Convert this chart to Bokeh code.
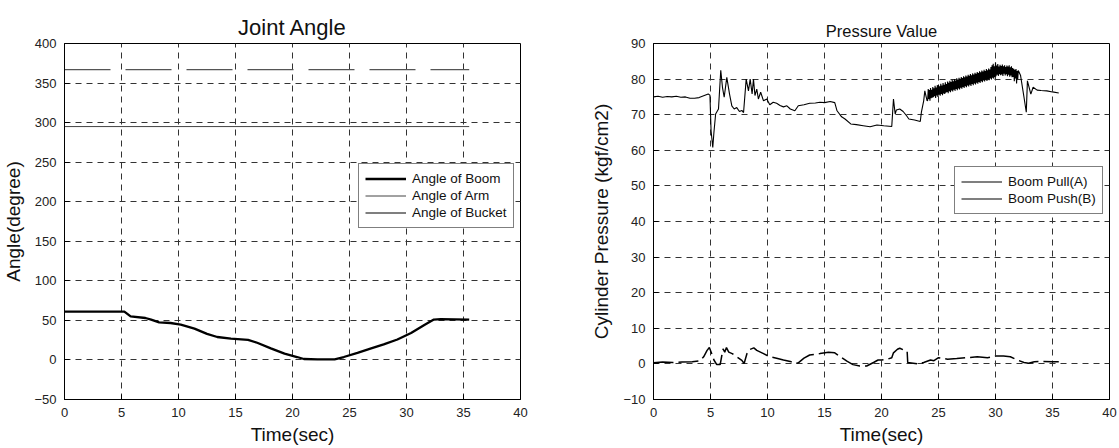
from bokeh.plotting import figure
from bokeh.models import Range1d, SingleIntervalTicker, Legend, LegendItem
from bokeh.layouts import row
from bokeh.embed import file_html
from bokeh.resources import INLINE

# ---------------- data: Joint Angle ----------------
boom_t = [0, 5.25, 5.8, 7.1, 7.6, 8.3, 9.3, 10.2, 11.4, 12.5, 13.4, 14.6, 16.1, 16.9,
          18.1, 19.3, 20.4, 21.0, 22.2, 23.7, 24.5, 25.7, 26.9, 28.0, 29.2, 30.4,
          31.6, 32.4, 33.0, 35.5]
boom_deg = [61, 61, 55, 53, 51, 47.5, 46.7, 44.6, 39.6, 33, 29, 27, 25.4, 21.7,
            14.6, 8, 3.7, 1.2, 0.8, 0.8, 3.7, 9, 14.6, 19.6, 25.8, 34,
            44.6, 51, 51.7, 51]
arm_t = [0, 35.5]
arm_deg = [295, 295]
bucket_t = [0, 35.5]
bucket_deg = [367, 367]

# ---------------- data: Pressure Value ----------------
# Boom Pull (A): smooth part before the noisy band
pa_t_start = [0.0, 0.4, 0.8, 1.2, 1.6, 2.0, 2.4, 2.8, 3.2, 3.6, 4.0, 4.4, 4.8, 4.95,
              5.05, 5.2, 5.3, 5.45, 5.7, 5.9, 6.05, 6.2, 6.43, 6.67, 6.87, 7.08, 7.3,
              7.54, 7.75, 7.9, 8.13, 8.33, 8.48, 8.65, 8.77, 8.9, 9.06, 9.2, 9.4, 9.65,
              9.94, 10.2, 10.5, 10.8, 11.1, 11.4, 11.7, 12.0, 12.4, 12.7, 13.2, 13.7,
              14.2, 14.6, 15.0, 15.5, 15.9, 16.1, 16.5, 16.8, 17.3, 17.8, 18.4, 19.0,
              19.6, 20.2, 20.9, 21.05, 21.2, 21.3, 21.6, 21.9, 22.2, 22.4, 22.9, 23.4,
              23.5, 23.7, 23.8, 24.0]
pa_v_start = [75.0, 75.2, 74.9, 75.1, 75.0, 75.2, 74.9, 75.0, 74.6, 74.6, 74.8, 75.3, 75.8, 75.5,
              65.5, 60.8, 65.0, 70.2, 71.6, 82.5, 77.7, 74.9, 80.5, 75.8, 72.5, 71.6, 72.0,
              70.9, 71.2, 70.6, 80.0, 76.7, 80.0, 75.8, 80.0, 75.4, 77.2, 74.4, 76.3, 73.9,
              74.4, 72.8, 73.5, 73.2, 72.6, 72.2, 72.5, 71.6, 71.1, 72.5, 72.8, 73.2,
              73.3, 73.5, 73.4, 73.7, 73.4, 71.1, 69.4, 68.8, 67.4, 67.2, 66.9, 66.6,
              67.1, 66.9, 66.7, 74.4, 70.2, 71.3, 71.6, 70.9, 69.7, 68.8, 68.5, 68.1,
              70.7, 73.9, 76.7, 73.9]
# Boom Pull (A): noisy band 24-32 s
pa_t_band = [24.05, 24.10, 24.15, 24.20, 24.25, 24.30, 24.35, 24.40, 24.45, 24.50,
             24.55, 24.60, 24.65, 24.70, 24.75, 24.80, 24.85, 24.90, 24.95, 25.00,
             25.05, 25.10, 25.15, 25.20, 25.25, 25.30, 25.35, 25.40, 25.45, 25.50,
             25.55, 25.60, 25.65, 25.70, 25.75, 25.80, 25.85, 25.90, 25.95, 26.00,
             26.05, 26.10, 26.15, 26.20, 26.25, 26.30, 26.35, 26.40, 26.45, 26.50,
             26.55, 26.60, 26.65, 26.70, 26.75, 26.80, 26.85, 26.90, 26.95, 27.00,
             27.05, 27.10, 27.15, 27.20, 27.25, 27.30, 27.35, 27.40, 27.45, 27.50,
             27.55, 27.60, 27.65, 27.70, 27.75, 27.80, 27.85, 27.90, 27.95, 28.00,
             28.05, 28.10, 28.15, 28.20, 28.25, 28.30, 28.35, 28.40, 28.45, 28.50,
             28.55, 28.60, 28.65, 28.70, 28.75, 28.80, 28.85, 28.90, 28.95, 29.00,
             29.05, 29.10, 29.15, 29.20, 29.25, 29.30, 29.35, 29.40, 29.45, 29.50,
             29.55, 29.60, 29.65, 29.70, 29.75, 29.80, 29.85, 29.90, 29.95, 30.00,
             30.05, 30.10, 30.15, 30.20, 30.25, 30.30, 30.35, 30.40, 30.45, 30.50,
             30.55, 30.60, 30.65, 30.70, 30.75, 30.80, 30.85, 30.90, 30.95, 31.00,
             31.05, 31.10, 31.15, 31.20, 31.25, 31.30, 31.35, 31.40, 31.45, 31.50,
             31.55, 31.60, 31.65, 31.70, 31.75, 31.80, 31.85, 31.90, 31.95, 32.00]
pa_v_band = [74.0, 77.2, 74.4, 76.9, 73.9, 77.5, 74.6, 77.0, 74.8, 77.8,
             74.9, 77.4, 75.2, 78.1, 74.7, 77.6, 75.4, 78.3, 75.0, 78.5,
             75.6, 78.0, 75.3, 78.7, 75.8, 78.2, 75.5, 78.9, 76.0, 78.4,
             75.8, 79.1, 76.2, 78.6, 76.4, 79.3, 76.0, 79.0, 76.6, 79.5,
             76.3, 79.2, 76.8, 79.8, 76.5, 79.4, 77.0, 80.0, 76.7, 79.6,
             77.2, 80.2, 76.9, 79.9, 77.4, 80.4, 77.1, 80.1, 77.6, 80.6,
             77.3, 80.3, 77.8, 80.8, 77.5, 80.5, 78.0, 81.0, 77.7, 80.7,
             78.2, 81.2, 77.9, 80.9, 78.4, 81.4, 78.1, 81.1, 78.6, 81.6,
             78.3, 81.3, 78.8, 81.8, 78.5, 81.5, 79.0, 82.0, 78.7, 81.7,
             79.2, 82.2, 78.9, 81.9, 79.4, 82.4, 79.1, 82.1, 79.6, 82.6,
             79.3, 82.3, 79.8, 82.8, 79.5, 82.5, 80.0, 83.0, 79.7, 82.7,
             80.2, 83.4, 79.9, 83.9, 80.4, 84.3, 80.1, 83.6, 80.6, 84.7,
             80.8, 83.8, 81.2, 84.2, 80.9, 83.5, 81.4, 84.0, 81.1, 83.7,
             81.3, 84.1, 80.9, 83.6, 81.5, 83.9, 81.0, 83.4, 81.4, 83.8,
             80.8, 83.5, 81.2, 83.9, 80.7, 83.3, 81.0, 83.6, 80.5, 83.1,
             80.6, 82.9, 79.4, 82.6, 80.2, 82.8, 78.8, 82.3, 80.0, 82.4]
# Boom Pull (A): after the band
pa_t_end = [32.2, 32.5, 32.7, 32.8, 33.1, 33.3, 33.65, 34.0, 34.5, 35.0, 35.55]
pa_v_end = [81.0, 74.9, 70.7, 79.5, 75.8, 77.7, 76.9, 76.8, 76.7, 76.4, 76.1]

pa_t = pa_t_start + pa_t_band + pa_t_end
pa_val = pa_v_start + pa_v_band + pa_v_end

# Boom Push (B)
pb_t = [0.0, 0.8, 1.7, 2.5, 3.4, 4.1, 4.4, 4.7, 4.9, 5.1, 5.3, 5.55, 5.85, 6.0, 6.1,
        6.25, 6.4, 6.6, 6.9, 7.3, 7.75, 7.95, 8.2, 8.4, 8.8, 9.06, 9.65, 10.2, 10.8,
        11.4, 12.0, 12.4, 12.7, 13.2, 13.7, 14.6, 15.35, 15.9, 16.4, 17.0, 17.5,
        18.1, 18.7, 19.3, 19.7, 20.0, 20.5, 20.9, 21.05, 21.4, 21.6, 21.95, 22.25,
        22.3, 23.3, 23.7, 24.3, 24.6, 25.0, 25.8, 26.6, 27.5, 28.4, 29.3, 30.0,
        30.7, 31.3, 31.9, 32.5, 32.9, 33.4, 34.2, 35.0, 35.55]
pb_val = [0.3, 0.5, 0.4, 0.5, 0.6, 0.9, 2.0, 3.8, 4.6, 2.9, 1.1, -0.2, -0.2, 2.5, 4.2,
          3.3, 4.6, 3.3, 2.9, 2.0, 1.0, 0.1, 2.9, 4.0, 4.5, 3.8, 2.9, 2.0, 1.6,
          1.1, 0.7, 0.1, 0.3, 1.6, 2.5, 2.9, 3.3, 3.1, 2.0, 0.7, -0.2,
          -0.6, -0.6, 0.4, 1.1, 1.1, 1.3, 1.75, 3.1, 4.1, 4.4, 3.9, 3.5,
          0.4, 0.0, 0.4, 1.1, 0.9, 1.75, 1.3, 1.5, 1.75, 2.0, 1.75, 2.2,
          2.2, 2.0, 1.1, 0.4, 0.2, 0.6, 0.7, 0.6, 0.6]

FONT = "Liberation Sans"


def style(p, xlabel, ylabel, yint, title_size):
    p.title.text_font = FONT
    p.title.text_font_style = "normal"
    p.title.text_font_size = title_size
    p.title.align = "center"
    p.title.text_color = "#111111"
    p.title.standoff = 8
    p.background_fill_color = "white"
    p.border_fill_color = "white"
    p.outline_line_color = "black"
    p.outline_line_width = 1
    p.outline_line_alpha = 1
    p.xaxis.ticker = SingleIntervalTicker(interval=5)
    p.yaxis.ticker = SingleIntervalTicker(interval=yint)
    for ax in (p.xaxis, p.yaxis):
        ax.axis_line_color = "black"
        ax.axis_line_width = 1
        ax.major_tick_in = 5
        ax.major_tick_out = 0
        ax.major_tick_line_color = "black"
        ax.minor_tick_line_color = None
        ax.major_label_text_font = FONT
        ax.major_label_text_font_size = "13px"
        ax.major_label_text_color = "#222222"
        ax.axis_label_text_font = FONT
        ax.axis_label_text_font_size = "19px"
        ax.axis_label_text_font_style = "normal"
        ax.axis_label_text_color = "#111111"
    p.xaxis.axis_label = xlabel
    p.yaxis.axis_label = ylabel
    p.xaxis.major_label_standoff = 4
    p.xaxis.axis_label_standoff = 4
    p.yaxis.major_label_standoff = 4
    p.yaxis.axis_label_standoff = 7
    for g in (p.xgrid, p.ygrid):
        g.grid_line_color = "#333333"
        g.grid_line_dash = "6 5"
        g.grid_line_width = 1
        g.grid_line_alpha = 1


def style_legend(lg):
    lg.border_line_color = "black"
    lg.border_line_width = 1.5
    lg.background_fill_color = "white"
    lg.background_fill_alpha = 1
    lg.padding = 6
    lg.spacing = 0
    lg.margin = 0
    lg.glyph_width = 41
    lg.glyph_height = 17
    lg.label_height = 17
    lg.label_standoff = 6
    lg.label_text_font = FONT
    lg.label_text_font_size = "13.5px"
    lg.label_text_color = "#111111"


H = 447
TOP = 43
BOTTOM = 45
# ---------------- left figure ----------------
p1 = figure(width=560, height=H, x_range=Range1d(0, 40), y_range=Range1d(-50, 400),
            title="Joint Angle", output_backend="svg", toolbar_location=None,
            min_border_left=63, min_border_right=40, min_border_top=TOP, min_border_bottom=BOTTOM)
style(p1, "Time(sec)", "Angle(degree)", 50, "22px")
r_boom = p1.line(boom_t, boom_deg, line_width=2.3, color="black")
r_arm = p1.line(arm_t, arm_deg, line_width=1, color="#444444")
r_bucket = p1.line(bucket_t, bucket_deg, line_width=1.3, color="#555555", line_dash="46 15")
lg1 = Legend(items=[LegendItem(label="Angle of Boom", renderers=[r_boom]),
                    LegendItem(label="Angle of Arm", renderers=[r_arm]),
                    LegendItem(label="Angle of Bucket", renderers=[r_bucket])],
             location=(294, 171))
style_legend(lg1)
p1.add_layout(lg1, "center")

# ---------------- right figure ----------------
p2 = figure(width=558, height=H, x_range=Range1d(0, 40), y_range=Range1d(-10, 90),
            title="Pressure Value", output_backend="svg", toolbar_location=None,
            min_border_left=93, min_border_right=9, min_border_top=TOP, min_border_bottom=BOTTOM)
style(p2, "Time(sec)", "Cylinder Pressure (kgf/cm2)", 10, "16.5px")
p2.yaxis.axis_label_standoff = 8
r_a = p2.line(pa_t, pa_val, line_width=1.1, color="black")
r_b = p2.line(pb_t, pb_val, line_width=1.5, color="black", line_dash="20 5")
lg2 = Legend(items=[LegendItem(label="Boom Pull(A)", renderers=[r_a]),
                    LegendItem(label="Boom Push(B)", renderers=[r_a])],
             location=(301, 185))
style_legend(lg2)
p2.add_layout(lg2, "center")

layout = row(p1, p2)
open("out.html", "w").write(file_html(layout, INLINE))
